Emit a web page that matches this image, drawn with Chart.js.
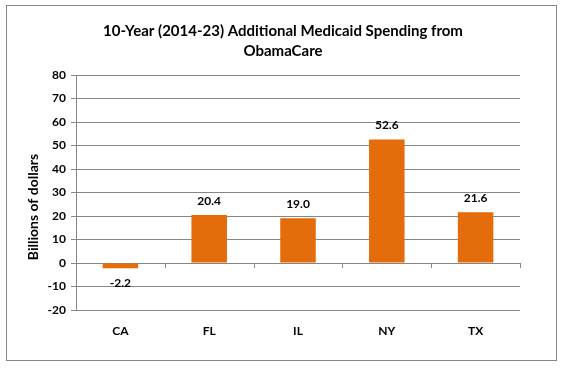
<!DOCTYPE html>
<html>
<head>
<meta charset="utf-8">
<script src="https://cdn.jsdelivr.net/npm/chart.js@4"></script>
<style>
  html, body { margin: 0; padding: 0; background: #fff; }
  #wrap { position: relative; width: 562px; height: 369px; }
  #frame { position: absolute; left: 6px; top: 5px; width: 549px; height: 354px; border: 1px solid #868686; }
  canvas { position: absolute; left: 0; top: 0; }
</style>
</head>
<body>
<div id="wrap">
  <div id="frame"></div>
  <canvas id="chart" width="562" height="369"></canvas>
</div>
<script>
const states = ['CA', 'FL', 'IL', 'NY', 'TX'];
const spending = [-2.2, 20.4, 19.0, 52.6, 21.6];
const titleLines = ['10-Year (2014-23) Additional Medicaid Spending from', 'ObamaCare'];
const yLabel = 'Billions of dollars';

const FONT = 'Lato, "Open Sans", sans-serif';
const GRID = '#868686';

// title, value labels, y-axis title and zero-line ticks
const extras = {
    id: 'extras',
    afterDatasetsDraw(chart) {
        const ctx = chart.ctx;
        const meta = chart.getDatasetMeta(0);
        const y = chart.scales.y;
        const x = chart.scales.x;
        const zero = y.getPixelForValue(0);

        ctx.save();
        // tick marks on the zero line between categories
        ctx.strokeStyle = GRID;
        ctx.lineWidth = 1;
        for (let i = 0; i <= states.length; i++) {
            const px = Math.round(x.left + (x.right - x.left) * i / states.length) + 0.5;
            ctx.beginPath();
            ctx.moveTo(px, zero);
            ctx.lineTo(px, zero + 5);
            ctx.stroke();
        }

        ctx.fillStyle = '#000';
        ctx.textAlign = 'center';
        ctx.textBaseline = 'middle';

        ctx.font = 'bold 15px ' + FONT;
        titleLines.forEach((t, i) => ctx.fillText(t, 283, 31 + i * 20));

        ctx.font = 'bold 12px ' + FONT;
        meta.data.forEach((bar, i) => {
            const v = spending[i];
            const ty = v >= 0 ? bar.y - 14 : bar.y + 15;
            ctx.fillText(v.toFixed(1), bar.x, ty);
        });

        ctx.translate(33, 207);
        ctx.rotate(-Math.PI / 2);
        ctx.font = 'bold 14px ' + FONT;
        ctx.fillText(yLabel, 0, 0);
        ctx.restore();
    }
};

new Chart(document.getElementById('chart'), {
    type: 'bar',
    data: {
        labels: states,
        datasets: [{
            data: spending,
            backgroundColor: '#E46C0A',
            barPercentage: 0.4,
            categoryPercentage: 1.0
        }]
    },
    options: {
        responsive: false,
        animation: false,
        layout: { padding: { left: 0, right: 42, top: 75, bottom: 0 } },
        plugins: {
            legend: { display: false },
            tooltip: { enabled: false },
            title: { display: false }
        },
        scales: {
            x: {
                grid: { display: false, drawTicks: false },
                border: { display: false },
                ticks: { color: '#000', font: { family: FONT, size: 12, weight: 'bold' }, padding: 14 },
                afterFit(s) { s.height = 59; }
            },
            y: {
                min: -20,
                max: 80,
                ticks: { stepSize: 10, color: '#000', font: { family: FONT, size: 12, weight: 'bold' }, padding: 5 },
                grid: { color: GRID, tickLength: 5 },
                border: { color: GRID },
                afterFit(s) { s.width = 76; }
            }
        }
    },
    plugins: [extras]
});
</script>
</body>
</html>
